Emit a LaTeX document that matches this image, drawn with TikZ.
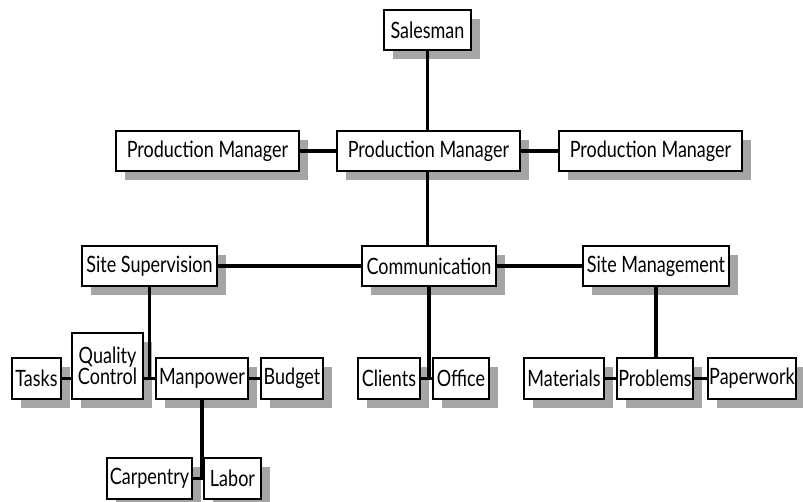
\documentclass[tikz,border=0pt]{standalone}
\usepackage{fontspec}
\setmainfont[FakeStretch=0.8]{Lato}
\usetikzlibrary{shadows}
\definecolor{shadowgray}{RGB}{165,165,165}
\tikzset{
  orgbox/.style={draw=black, line width=1.3pt, fill=white, inner sep=0pt,
    align=center, font=\fontsize{22.5}{21}\selectfont,
    general shadow={fill=shadowgray, shadow xshift=9pt, shadow yshift=-9pt}},
  link/.style={line width=3.3pt, black}
}
\begin{document}
\begin{tikzpicture}[x=1pt,y=-1pt]
\useasboundingbox (0,0) rectangle (803,502);
% row 0
\node[orgbox, minimum width=87pt, minimum height=40pt] (sales) at (427.5,30) {Salesman};
% row 1
\node[orgbox, minimum width=183pt, minimum height=40pt] (pml) at (207.5,151) {Production Manager};
\node[orgbox, minimum width=183pt, minimum height=40pt] (pmc) at (428.5,151) {Production Manager};
\node[orgbox, minimum width=183pt, minimum height=40pt] (pmr) at (650.5,151) {Production Manager};
% row 2
\node[orgbox, minimum width=135pt, minimum height=40pt] (ss) at (149.5,266) {Site Supervision};
\node[orgbox, minimum width=134pt, minimum height=40pt] (comm) at (429,266) {Communication};
\node[orgbox, minimum width=146pt, minimum height=40pt] (sm) at (656,266) {Site Management};
% row 3
\node[orgbox, minimum width=49pt, minimum height=41pt] (tasks) at (36.5,378.5) {Tasks};
\node[orgbox, minimum width=71pt, minimum height=66pt] (qc) at (107.5,366) {Quality\\Control};
\node[orgbox, minimum width=92pt, minimum height=41pt] (mp) at (202,378.5) {Manpower};
\node[orgbox, minimum width=62pt, minimum height=41pt] (budget) at (292,378.5) {Budget};
\node[orgbox, minimum width=62pt, minimum height=41pt] (clients) at (389,378.5) {Clients};
\node[orgbox, minimum width=56pt, minimum height=41pt] (office) at (461,378.5) {Office};
\node[orgbox, minimum width=80pt, minimum height=41pt] (mat) at (564,378.5) {Materials};
\node[orgbox, minimum width=76pt, minimum height=41pt] (prob) at (655,378.5) {Problems};
\node[orgbox, minimum width=88pt, minimum height=41pt] (paper) at (752,378.5) {Paperwork};
% row 4
\node[orgbox, minimum width=85pt, minimum height=41pt] (carp) at (149.5,478.5) {Carpentry};
\node[orgbox, minimum width=57pt, minimum height=41pt] (labor) at (232.5,478.5) {Labor};
% connectors
\draw[link] (sales.south) -- (sales.south |- pmc.north);
\draw[link] (pml.east) -- (pmc.west);
\draw[link] (pmc.east) -- (pmr.west);
\draw[link] (sales.south |- pmc.south) -- (sales.south |- comm.north);
\draw[link] (ss.east) -- (comm.west);
\draw[link] (comm.east) -- (sm.west);
\draw[link] (ss.south) -- (ss.south |- mp.west);
\draw[link] (qc.east |- mp.west) -- (mp.west);
\draw[link] (tasks.east) -- (tasks.east -| qc.west);
\draw[link] (mp.east) -- (budget.west);
\draw[link] (mp.south) -- (mp.south |- carp.east);
\draw[link] (carp.east) -- (labor.west);
\draw[link] (comm.south) -- (comm.south |- clients.east);
\draw[link] (clients.east) -- (office.west);
\draw[link] (sm.south) -- (sm.south |- prob.north);
\draw[link] (mat.east) -- (prob.west);
\draw[link] (prob.east) -- (paper.west);
\end{tikzpicture}
\end{document}
